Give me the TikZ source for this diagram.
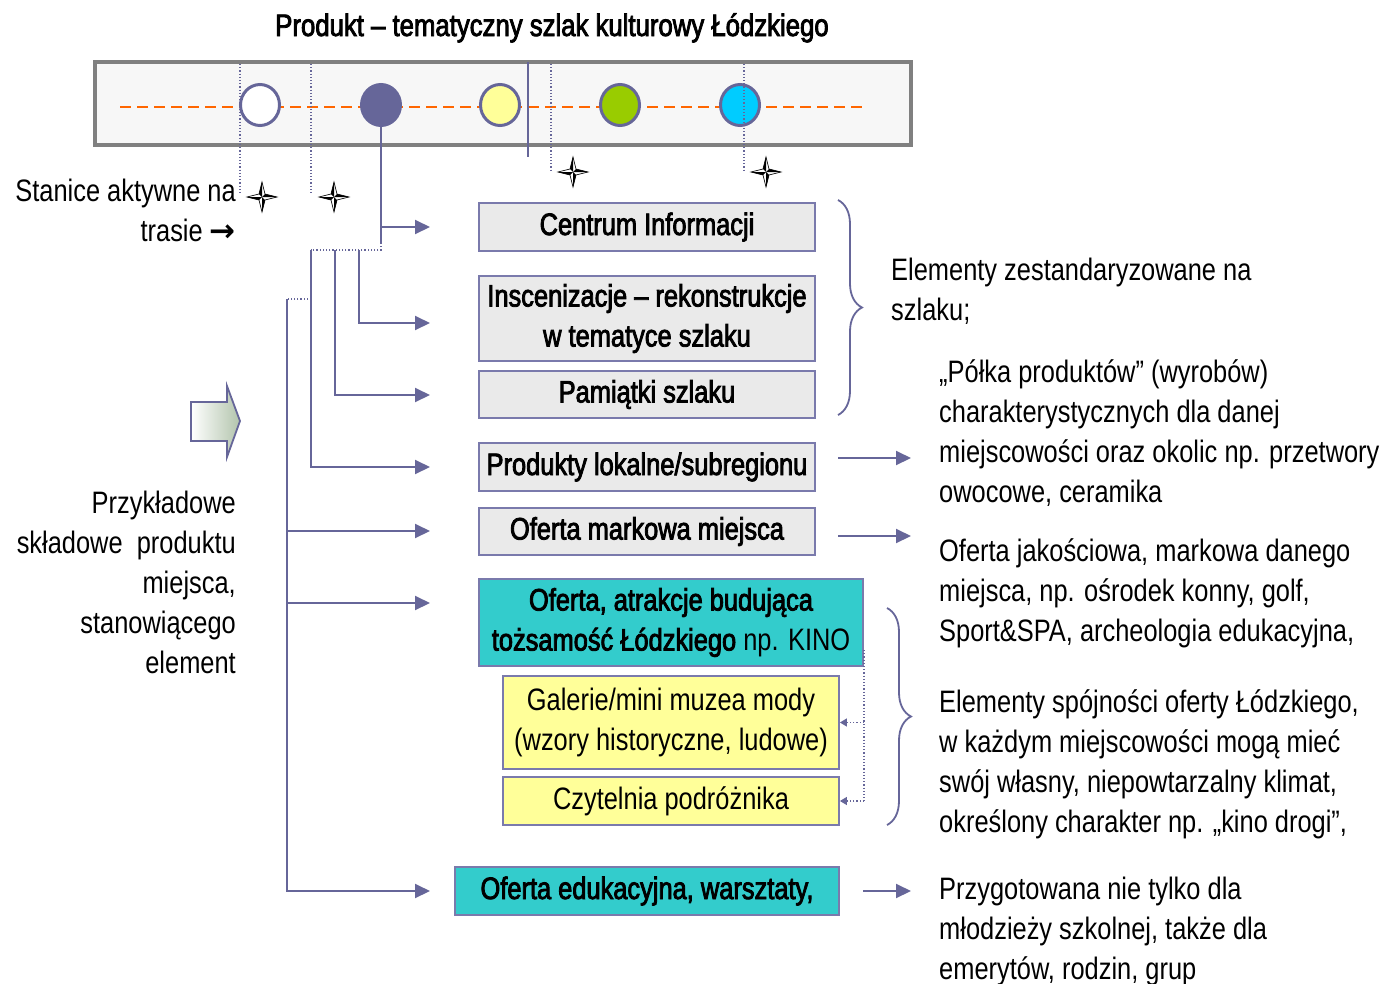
\documentclass[tikz,border=0pt]{standalone}
\usepackage{fontspec}
\setmainfont{Liberation Sans}[FakeStretch=0.82]
\newfontfamily\heavyfam{Liberation Sans}[FakeStretch=0.82, FakeBold=2.6]
\newfontfamily\titlefam{Liberation Sans}[FakeStretch=0.83, FakeBold=2.6]
\newfontfamily\arrowfam{DejaVu Sans}
\usetikzlibrary{arrows.meta,shapes.geometric,decorations.pathreplacing,shadings}

\definecolor{linep}{RGB}{102,102,153}
\definecolor{boxline}{RGB}{122,122,172}
\definecolor{boxgray}{RGB}{234,234,234}
\definecolor{tealfill}{RGB}{51,204,204}
\definecolor{yelfill}{RGB}{255,255,153}
\definecolor{framegray}{RGB}{128,128,128}
\definecolor{framefill}{RGB}{247,247,247}
\definecolor{trailorange}{RGB}{255,102,0}
\definecolor{stgreen}{RGB}{153,204,0}
\definecolor{stcyan}{RGB}{0,204,255}
\definecolor{arrowgreen}{RGB}{178,196,172}

\tikzset{
  compassstar/.pic={
    \filldraw[fill=white, draw=black, line width=0.7pt]
      (0,-15) -- (3,-3) -- (15,0) -- (3,3) -- (0,15) -- (-3,3) -- (-15,0) -- (-3,-3) -- cycle;
    \fill[black] (0,0) -- (0,-15) -- (-3,-3) -- cycle;
    \fill[black] (0,0) -- (15,0) -- (3,-3) -- cycle;
    \fill[black] (0,0) -- (0,15) -- (3,3) -- cycle;
    \fill[black] (0,0) -- (-15,0) -- (-3,3) -- cycle;
  }
}

\begin{document}
\begin{tikzpicture}[x=1pt,y=-1pt,
  txt/.style={inner sep=0pt, font=\fontsize{31}{40}\selectfont},
  boxbase/.style={draw=boxline, line width=1.8pt, inner sep=0pt, align=center},
  graybox/.style={boxbase, fill=boxgray, minimum width=336pt, minimum height=48pt,
    font=\heavyfam\fontsize{31}{40}\selectfont},
  tealbox/.style={boxbase, fill=tealfill, minimum width=384pt, minimum height=48pt,
    font=\heavyfam\fontsize{31}{40}\selectfont},
  yelbox/.style={boxbase, fill=yelfill, minimum width=336pt, minimum height=48pt,
    font=\fontsize{31}{40}\selectfont},
  station/.style={ellipse, draw=linep, line width=3pt, minimum width=39pt,
    minimum height=41pt, inner sep=0pt},
  link/.style={draw=linep, line width=2pt},
  arr/.style={link, -{Triangle[length=15pt,width=14pt]}},
  dots/.style={draw=linep, line width=1.2pt, dash pattern=on 1.2pt off 2pt},
  smallarr/.style={dots, -{Triangle[length=7pt,width=8pt]}},
  bracestyle/.style={draw=linep, line width=1.8pt, decorate,
    decoration={brace, amplitude=24pt}}
]
\useasboundingbox (0,0) rectangle (1390,983);

% title
\node[anchor=base, inner sep=0pt, font=\titlefam\fontsize{31}{34}\selectfont]
  (title) at (552,36) {Produkt – tematyczny szlak kulturowy Łódzkiego};

% trail frame with stations
\draw[draw=framegray, fill=framefill, line width=3.5pt] (95,62) rectangle (911,145);
\draw[trailorange, line width=2.5pt, dash pattern=on 11pt off 6pt] (120,107) -- (865,107);
\node[station, fill=white] (c1) at (260,105) {};
\node[station, fill=linep] (c2) at (381,105) {};
\node[station, fill=yelfill] (c3) at (500,105) {};
\node[station, fill=stgreen] (c4) at (620,105) {};
\node[station, fill=stcyan] (c5) at (740,105) {};

% station markers
\draw[dots] (240,64) -- (240,193);
\draw[dots] (311,64) -- (311,193);
\draw[dots] (551,64) -- (551,170);
\draw[dots] (744,64) -- (744,170);
\draw[link, line width=1.8pt] (528,62) -- (528,157);
\pic at (262,197) {compassstar};
\pic at (334,197) {compassstar};
\pic at (573,172) {compassstar};
\pic at (766,172) {compassstar};

% left labels
\node[txt, anchor=north east, align=right] (stanice) at (236,173)
  {\strut Stanice aktywne na\\ trasie {\arrowfam\bfseries →}};
\node[txt, anchor=north east, align=right] (przyk) at (236,485)
  {\strut Przykładowe\\ składowe\ \ produktu\\ miejsca,\\ stanowiącego\\ element};

% block arrow
\shadedraw[left color=white, right color=arrowgreen, draw=linep, line width=1.8pt]
  (191,402) -- (227,402) -- (227,386) -- (240,421) -- (227,457) -- (227,441) -- (191,441) -- cycle;

% product components
\node[graybox] (ci) at (647,227) {Centrum Informacji};
\node[graybox, minimum height=85pt] (insc) at (647,318.5)
  {Inscenizacje – rekonstrukcje\\ w tematyce szlaku};
\node[graybox, minimum height=47pt] (pam) at (647,394.5) {Pamiątki szlaku};
\node[graybox] (prod) at (647,467) {Produkty lokalne/subregionu};
\node[graybox, minimum height=47pt] (ofm) at (647,531.5) {Oferta markowa miejsca};
\node[tealbox, minimum height=87pt] (ofa) at (671,622.5)
  {Oferta, atrakcje budująca\\ tożsamość Łódzkiego {\rmfamily np. KINO}};
\node[yelbox, minimum height=93pt] (gal) at (671,722.5)
  {Galerie/mini muzea mody\\ (wzory historyczne, ludowe)};
\node[yelbox] (czyt) at (671,801) {Czytelnia podróżnika};
\node[tealbox] (ofe) at (647,891) {Oferta edukacyjna, warsztaty,};

% connector junctions and free ends
\coordinate (j0top) at (381,243);
\coordinate (j0) at (381,250);
\coordinate (k1) at (359,250);
\coordinate (k2) at (335,250);
\coordinate (k3) at (311,250);
\coordinate (m0) at (308,299);
\coordinate (m1) at (287,299);
\coordinate (b-ci) at (381,227);
\coordinate (b-ofm) at (287,531);
\coordinate (b-ofa) at (287,603);
\coordinate (e-ci) at (430,227);
\coordinate (e-insc) at (430,323);
\coordinate (e-pam) at (430,395);
\coordinate (e-prod) at (430,467);
\coordinate (e-ofm) at (430,531);
\coordinate (e-ofa) at (430,603);
\coordinate (e-ofe) at (430,891);

% tree of connectors
\draw[link] (c2.south) -- (j0top);
\draw[arr] (b-ci) -- (e-ci);
\draw[dots] (j0top) -- (j0) -- (k3);
\draw[arr] (k1) |- (e-insc);
\draw[arr] (k2) |- (e-pam);
\draw[arr] (k3) |- (e-prod);
\draw[dots] (m0) -- (m1);
\draw[arr] (m1) |- (e-ofe);
\draw[arr] (b-ofm) -- (e-ofm);
\draw[arr] (b-ofa) -- (e-ofa);

% dotted links to the sub-offers
\coordinate (dv0) at (864,650);
\coordinate (dv1) at (864,722.5);
\coordinate (dv2) at (864,801);
\draw[dots] (dv0) -- (dv2);
\draw[smallarr] (dv1) -- (gal.east);
\draw[smallarr] (dv2) -- (czyt.east);

% braces
\draw[bracestyle] (838,200) -- (838,415);
\draw[bracestyle] (887,608) -- (887,825);

% arrows to descriptions
\coordinate (r1s) at (838,458);
\coordinate (r1e) at (911,458);
\coordinate (r2s) at (838,536);
\coordinate (r2e) at (911,536);
\coordinate (r3s) at (863,891);
\coordinate (r3e) at (911,891);
\draw[arr] (r1s) -- (r1e);
\draw[arr] (r2s) -- (r2e);
\draw[arr] (r3s) -- (r3e);

% descriptions
\node[txt, anchor=north west, align=left] (tstd) at (891,252)
  {\strut Elementy zestandaryzowane na\\ szlaku;};
\node[txt, anchor=north west, align=left] (tpolka) at (939,354)
  {\strut „Półka produktów” (wyrobów)\\ charakterystycznych dla danej\\ miejscowości oraz okolic np. przetwory\\ owocowe, ceramika};
\node[txt, anchor=north west, align=left] (tjakosc) at (939,533)
  {\strut Oferta jakościowa, markowa danego\\ miejsca, np. ośrodek konny, golf,\\ Sport\&SPA, archeologia edukacyjna,};
\node[txt, anchor=north west, align=left] (tspoj) at (939,684)
  {\strut Elementy spójności oferty Łódzkiego,\\ w każdym miejscowości mogą mieć\\ swój własny, niepowtarzalny klimat,\\ określony charakter np. „kino drogi”,};
\node[txt, anchor=north west, align=left] (tprzyg) at (939,871)
  {\strut Przygotowana nie tylko dla\\ młodzieży szkolnej, także dla\\ emerytów, rodzin, grup};
\end{tikzpicture}
\end{document}
